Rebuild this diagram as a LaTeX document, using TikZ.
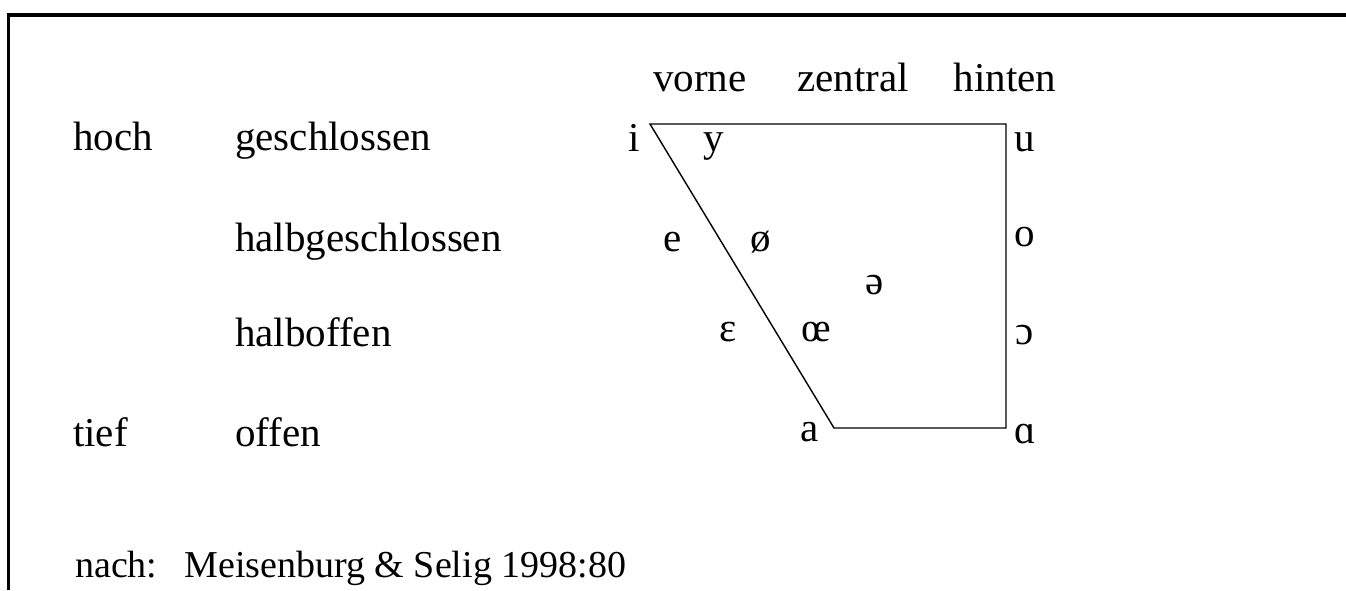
\documentclass[tikz,border=0pt]{standalone}
\usepackage{fontspec}
\setmainfont{Liberation Serif}
\begin{document}
\begin{tikzpicture}[x=1pt,y=-1pt,
  lab/.style={anchor=base west,inner sep=0pt,font=\fontsize{41}{49}\selectfont},
  foot/.style={anchor=base west,inner sep=0pt,font=\fontsize{38}{45}\selectfont},
  hdr/.style={anchor=base,inner sep=0pt,font=\fontsize{41}{49}\selectfont},
  vow/.style={anchor=base,inner sep=0pt,font=\fontsize{41}{49}\selectfont},
  frame/.style={line width=3.5pt},
  edge/.style={line width=1.4pt}]
\useasboundingbox (0,0) rectangle (1346,590);
\draw[frame] (8.5,590) -- (8.5,15) -- (1346,15);
% trapezoid corners
\coordinate (ci) at (650,124);
\coordinate (cu) at (1006,124);
\coordinate (ca) at (1006,428);
\coordinate (cA) at (834,428);
\draw[edge] (ci) -- (cu) -- (ca) -- (cA) -- cycle;
% headers
\node[hdr] (vorne) at (700,91) {vorne};
\node[hdr] (zentral) at (853,91) {zentral};
\node[hdr] (hinten) at (1005,91) {hinten};
% row labels
\node[lab] (hoch) at (73,150) {hoch};
\node[lab] (geschl) at (235,150) {geschlossen};
\node[lab] (halbg) at (235,251) {halbgeschlossen};
\node[lab] (halbo) at (235,346) {halboffen};
\node[lab] (tief) at (73,446) {tief};
\node[lab] (offen) at (235,446) {offen};
\node[foot] (nach) at (75,577) {nach:\hspace*{27pt}Meisenburg \& Selig 1998:80};
% vowels
\node[vow] (vi) at (634,151) {i};
\node[vow] (vy) at (714,151) {y};
\node[vow] (vu) at (1025,151) {u};
\node[vow] (ve) at (673,251) {e};
\node[vow] (voe) at (761,251) {ø};
\node[vow] (vo) at (1025,246) {o};
\node[vow] (vschwa) at (875,294) {ə};
\node[vow] (veps) at (728,341) {ɛ};
\node[vow] (voe2) at (816,341) {œ};
\node[vow] (vopen) at (1025,344) {ɔ};
\node[vow] (va) at (810,441) {a};
\node[vow] (valpha) at (1025,443) {ɑ};
\end{tikzpicture}
\end{document}
